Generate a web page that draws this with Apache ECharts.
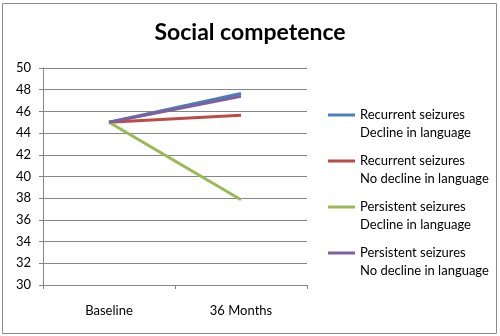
<!DOCTYPE html>
<html><head><meta charset="utf-8">
<script src="https://cdn.jsdelivr.net/npm/echarts@6/dist/echarts.min.js"></script>
<style>html,body{margin:0;padding:0;background:#fff}#c{width:500px;height:336px}</style>
</head><body><div id="c"></div>
<script>
const categories = ['Baseline', '36 Months'];
const seriesNames = ['Recurrent seizures\nDecline in language', 'Recurrent seizures\nNo decline in language', 'Persistent seizures\nDecline in language', 'Persistent seizures\nNo decline in language'];
const recurrentDecline = [45, 47.65];
const recurrentNoDecline = [45, 45.65];
const persistentDecline = [45, 37.85];
const persistentNoDecline = [45, 47.4];
const colors = ['#4A7EBB', '#BE4B48', '#98B954', '#7D60A0'];
const values = [recurrentDecline, recurrentNoDecline, persistentDecline, persistentNoDecline];
const font = 'Lato';
const chart = echarts.init(document.getElementById('c'));
chart.setOption({
  animation: false,
  title: { text: 'Social competence', left: 'center', top: 16, textStyle: { fontFamily: font, fontSize: 23, fontWeight: 'bold', color: '#000' } },
  graphic: [{ type: 'rect', shape: { x: 2.5, y: 3.5, width: 494, height: 330 }, style: { fill: 'none', stroke: '#8c8c8c', lineWidth: 1 }, silent: true }],
  grid: { left: 43, right: 193, top: 68, bottom: 51 },
  legend: {
    orient: 'vertical', left: 328, top: 88, padding: 0, itemGap: -8, itemWidth: 27, itemHeight: 3, icon: 'rect',
    formatter: name => ' \n' + name,
    textStyle: { fontFamily: font, fontSize: 13, lineHeight: 18, color: '#000' },
    data: seriesNames
  },
  xAxis: {
    type: 'category', data: categories, boundaryGap: true,
    axisLine: { lineStyle: { color: '#868686' } },
    axisTick: { show: true, lineStyle: { color: '#868686' }, length: 4 },
    axisLabel: { fontFamily: font, fontSize: 13, color: '#000', margin: 19 }
  },
  yAxis: {
    type: 'value', min: 30, max: 50, interval: 2,
    axisLine: { show: true, lineStyle: { color: '#868686' } },
    axisTick: { show: true, lineStyle: { color: '#868686' }, length: 4 },
    axisLabel: { fontFamily: font, fontSize: 13, color: '#000', margin: 12 },
    splitLine: { lineStyle: { color: '#868686' } }
  },
  series: values.map((v, i) => ({
    name: seriesNames[i], type: 'line', data: v, symbol: 'none',
    lineStyle: { color: colors[i], width: 3 }, itemStyle: { color: colors[i] }
  }))
});
</script></body></html>
